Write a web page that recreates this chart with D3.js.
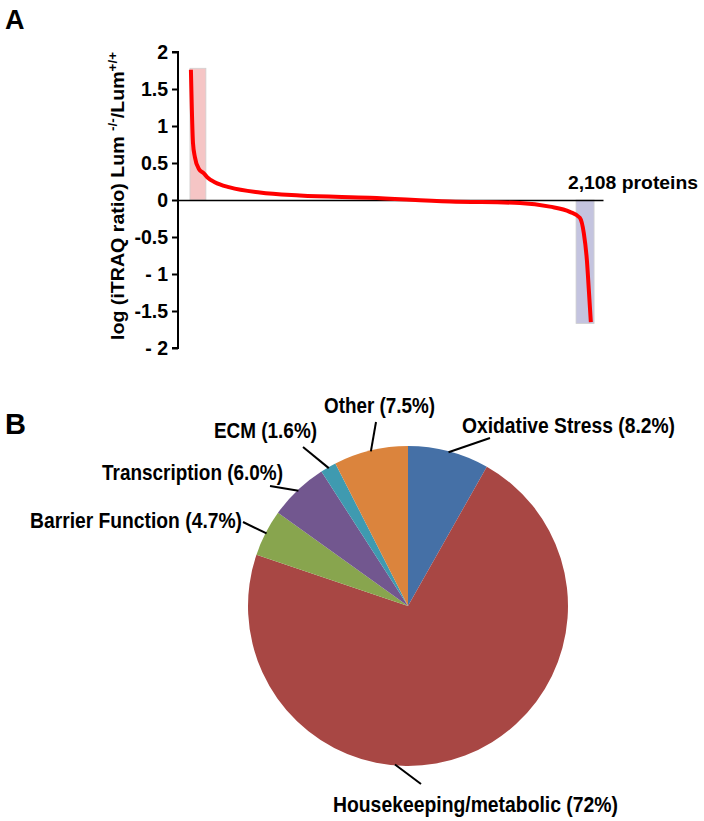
<!DOCTYPE html>
<html>
<head>
<meta charset="utf-8">
<script src="https://cdn.jsdelivr.net/npm/d3@7"></script>
<style>
  html, body { margin: 0; padding: 0; background: #fff; }
  svg { display: block; }
  text { font-family: "Liberation Sans", Arial, Helvetica, sans-serif; font-weight: bold; fill: #000; }
</style>
</head>
<body>
<svg id="chart" width="704" height="821"></svg>
<script>
// ---------- Panel A data ----------
const proteinCount = 2108;
const curveRank  = [1, 6, 12, 22, 43, 69, 90, 127, 206, 364, 575, 944, 1365, 1734, 1892, 1997, 2050, 2071, 2087, 2097, 2108];
const curveValue = [1.76, 1.22, 0.77, 0.58, 0.42, 0.36, 0.30, 0.24, 0.17, 0.10, 0.06, 0.03, -0.02, -0.04, -0.09, -0.16, -0.24, -0.45, -0.81, -1.2, -1.65];
const highlightStart = [-4, 2030];
const highlightEnd   = [80, 2125];
const highlightValue = [1.78, -1.67];
const highlightColor = ["#f5c5c5", "#c4c4df"];
const yTickValues = [2, 1.5, 1, 0.5, 0, -0.5, -1, -1.5, -2];
const yTickLabels = ["2", "1.5", "1", "0.5", "0", "-0.5", "- 1", "-1.5", "- 2"];

// ---------- Panel B data ----------
const pieCategories = ["Oxidative Stress", "Housekeeping/metabolic", "Barrier Function", "Transcription", "ECM", "Other"];
const pieValues     = [8.2, 72, 4.7, 6.0, 1.6, 7.5];
const pieLabels     = ["Oxidative Stress (8.2%)", "Housekeeping/metabolic (72%)", "Barrier Function (4.7%)", "Transcription (6.0%)", "ECM (1.6%)", "Other (7.5%)"];
const pieColors     = ["#4570a6", "#a84744", "#88a54e", "#72578f", "#3f9ab0", "#db843d"];

const svg = d3.select("#chart");

// ================= Panel A =================
const x = d3.scaleLinear().domain([-67, 2172]).range([178, 603]);
const y = d3.scaleLinear().domain([-2, 2]).range([348, 52]);

svg.append("text").attr("x", 5).attr("y", 29).style("font-size", "27px").text("A");

const gA = svg.append("g");

// highlight boxes
gA.selectAll("rect.hl").data(highlightStart).join("rect")
  .attr("class", "hl")
  .attr("x", (d, i) => x(highlightStart[i]))
  .attr("width", (d, i) => x(highlightEnd[i]) - x(highlightStart[i]))
  .attr("y", (d, i) => Math.min(y(highlightValue[i]), y(0)))
  .attr("height", (d, i) => Math.abs(y(highlightValue[i]) - y(0)))
  .attr("fill", (d, i) => highlightColor[i])
  .attr("stroke", "#d0d0d0")
  .attr("stroke-width", 0.8);

// y axis
const yAxis = d3.axisLeft(y).tickValues(yTickValues)
  .tickFormat((d, i) => yTickLabels[i]).tickSize(6).tickPadding(4);
const yg = gA.append("g").attr("transform", `translate(${x(-67)},0)`).call(yAxis);
yg.select(".domain").attr("stroke", "#000").attr("stroke-width", 2).attr("d", `M-6,${y(2)}H0V${y(-2)}H-6`);
yg.selectAll(".tick line").attr("stroke", "#000").attr("stroke-width", 2);
yg.selectAll(".tick text").style("font-size", "19.5px").style("font-family", "'Liberation Sans', Arial, sans-serif").style("font-weight", "bold");

// zero line
const xAxis = d3.axisBottom(x).tickValues([]).tickSizeOuter(0);
const xg = gA.append("g").attr("transform", `translate(0,${y(0)})`).call(xAxis);
xg.select(".domain").attr("stroke", "#000").attr("stroke-width", 1.5);

// curve
const line = d3.line().x((d, i) => x(curveRank[i])).y((d, i) => y(curveValue[i])).curve(d3.curveMonotoneX);
gA.append("path").datum(curveRank)
  .attr("d", line)
  .attr("fill", "none")
  .attr("stroke", "#ff0000")
  .attr("stroke-width", 4)
  .attr("stroke-linejoin", "round");

gA.append("text")
  .attr("x", 568).attr("y", 189)
  .attr("textLength", 130)
  .attr("lengthAdjust", "spacingAndGlyphs")
  .style("font-size", "19px")
  .text(d3.format(",")(proteinCount) + " proteins");

// y title
const yt = gA.append("text")
  .attr("transform", `translate(124,${196}) rotate(-90)`)
  .attr("text-anchor", "middle")
  .attr("textLength", 288)
  .attr("lengthAdjust", "spacingAndGlyphs")
  .style("font-size", "19px");
yt.append("tspan").text("log (iTRAQ ratio) Lum ");
yt.append("tspan").attr("dy", -7).style("font-size", "13px").text("-/-");
yt.append("tspan").attr("dy", 7).text("/Lum");
yt.append("tspan").attr("dy", -7).style("font-size", "13px").text("+/+");

// ================= Panel B =================
svg.append("text").attr("x", 5).attr("y", 434).style("font-size", "29px").text("B");

const cx = 408, cy = 606, r = 160;
const pie = d3.pie().sort(null).value(d => d)(pieValues);
const arc = d3.arc().innerRadius(0).outerRadius(r);
const gB = svg.append("g").attr("transform", `translate(${cx},${cy})`);
gB.selectAll("path").data(pie).join("path")
  .attr("d", arc)
  .attr("fill", (d, i) => pieColors[i]);

// label layout: text position, anchor, width, leader outer point, optional leader angle override (deg)
const labelLayout = [
  { tx: 462, ty: 433, anchor: "start",  w: 213, ox: 490, oy: 438 },
  { tx: 333, ty: 812, anchor: "start",  w: 285, ox: 421, oy: 784, angle: 184.7 },
  { tx: 242, ty: 528, anchor: "end",    w: 212, ox: 243, oy: 522 },
  { tx: 283, ty: 480, anchor: "end",    w: 181, ox: 270, oy: 486 },
  { tx: 317, ty: 438, anchor: "end",    w: 103, ox: 303, oy: 447 },
  { tx: 324, ty: 413, anchor: "start",  w: 111, ox: 376, oy: 422 }
];

const gL = svg.append("g");
pie.forEach((p, i) => {
  const L = labelLayout[i];
  const a = L.angle !== undefined ? L.angle * Math.PI / 180 : (p.startAngle + p.endAngle) / 2;
  const ix = cx + (r - 1) * Math.sin(a), iy = cy - (r - 1) * Math.cos(a);
  gL.append("line")
    .attr("x1", ix).attr("y1", iy).attr("x2", L.ox).attr("y2", L.oy)
    .attr("stroke", "#000").attr("stroke-width", 2);
  gL.append("text")
    .attr("x", L.tx).attr("y", L.ty)
    .attr("text-anchor", L.anchor)
    .attr("textLength", L.w)
    .attr("lengthAdjust", "spacingAndGlyphs")
    .style("font-size", "22px")
    .text(pieLabels[i]);
});
</script>
</body>
</html>
